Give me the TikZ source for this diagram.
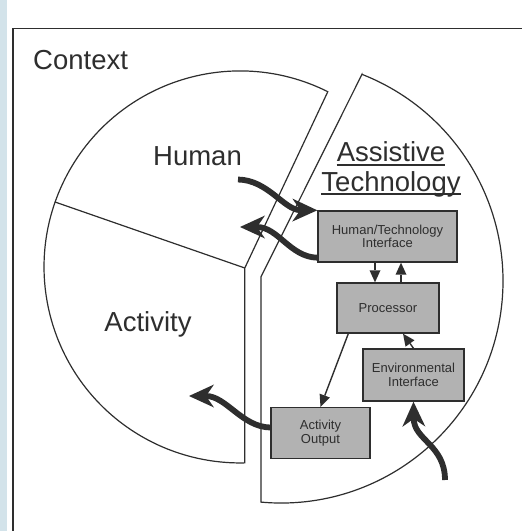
\documentclass[tikz,border=0pt]{standalone}
\usepackage{fontspec}
\setmainfont{Liberation Sans}
\usepackage{tikz}
\usetikzlibrary{positioning,arrows.meta}

\definecolor{inkgray}{HTML}{2E2E2E}
\definecolor{scanblue}{HTML}{D3E3EA}
\newcommand{\biglabel}{\fontsize{27.5}{30}\selectfont}
\newcommand{\boxlabel}{\fontsize{13}{13.5}\selectfont}

\begin{document}
\begin{tikzpicture}[x=1pt, y=1pt, squarednode/.style={rectangle, draw=inkgray, fill=black!30, line width=1.4pt, inner sep=0pt, align=center, text=inkgray, font=\boxlabel}, bigarrow/.style={draw=inkgray, line width=5.8pt, -{Stealth[length=25pt, width=23pt, inset=8pt, line width=0pt]}}, smallarrow/.style={draw=inkgray, line width=1.4pt, -{Triangle[length=12pt, width=11pt, line width=0pt]}}, outline/.style={draw=inkgray, line width=1.2pt}]

\tikzstyle{every node}=[text=inkgray]

\useasboundingbox (0,0) rectangle (522,-531);
\fill[scanblue] (0,0) rectangle (7,-531);
\draw[outline] (13,-531) -- (13,-28.5) -- (522,-28.5);

%Pieces of the circle
\draw[outline, fill=white] (327.8,-91.7) arc[start angle=63.4, end angle=271.4, radius=196] -- (244.8,-268) -- cycle;
\draw[outline] (55,-202) -- (244.8,-268);
\draw[outline, fill=white] (362,-74.3) -- (260.9,-277) -- (260.9,-502.1) arc[start angle=-95.2, end angle=68.6, radius=222] -- cycle;

%Labels
\node[anchor=base west, font=\biglabel, inner sep=0pt] (context) at (33,-69.5) {Context};
\node[anchor=base, font=\biglabel, inner sep=0pt] (human) at (197.5,-165) {Human};
\node[anchor=base, font=\biglabel, inner sep=0pt] (activity) at (148,-331) {Activity};
\node[anchor=base, font=\biglabel, inner sep=0pt] (assist) at (391,-161.5) {Assistive};
\node[anchor=base, font=\biglabel, inner sep=0pt] (techno) at (391,-191.5) {Technology};
\draw[inkgray, line width=1.4pt] ([yshift=-3.5pt]assist.base west) -- ([yshift=-3.5pt]assist.base east);
\draw[inkgray, line width=1.4pt] ([yshift=-2.5pt]techno.base west) -- ([yshift=-2.5pt]techno.base east);

%Nodes
\node[squarednode, minimum width=139pt, minimum height=51pt] (hti) at (387.5,-236.5) {Human/Technology\\Interface};
\node[squarednode, minimum width=102pt, minimum height=50pt] (proc) at (388,-308) {Processor};
\node[squarednode, minimum width=101pt, minimum height=52pt] (env) at (413.5,-375) {Environmental\\Interface};
\node[squarednode, minimum width=99pt, minimum height=51pt] (ao) at (320.5,-433) {Activity\\Output};

\coordinate (hsrc) at (238,-179.5); % free end in Human
\coordinate (hdst) at (240,-227); % free end in Human
\coordinate (adst) at (189,-396); % free end in Activity
\coordinate (esrc) at (445,-480); % free end outside

%Lines
\draw[smallarrow] ([xshift=-12.5pt]hti.south) -- ([xshift=-12.5pt]hti.south |- proc.north);
\draw[smallarrow] ([xshift=13.5pt]hti.south |- proc.north) -- ([xshift=13.5pt]hti.south);
\draw[smallarrow] ([xshift=12pt]proc.south west) -- (ao.north);
\draw[smallarrow] (env.north) -- ([xshift=15pt]proc.south);

\draw[bigarrow] (hsrc) .. controls (268,-180) and (284,-210) .. (hti.north west);
\draw[bigarrow] ([yshift=5pt]hti.south west) .. controls (290,-257) and (278,-227) .. (hdst);
\draw[bigarrow] ([yshift=5.5pt]ao.west) .. controls (242,-427) and (226,-396) .. (adst);
\draw[bigarrow] (esrc) .. controls (445,-445) and (414,-440) .. (env.south);

\end{tikzpicture}
\end{document}
